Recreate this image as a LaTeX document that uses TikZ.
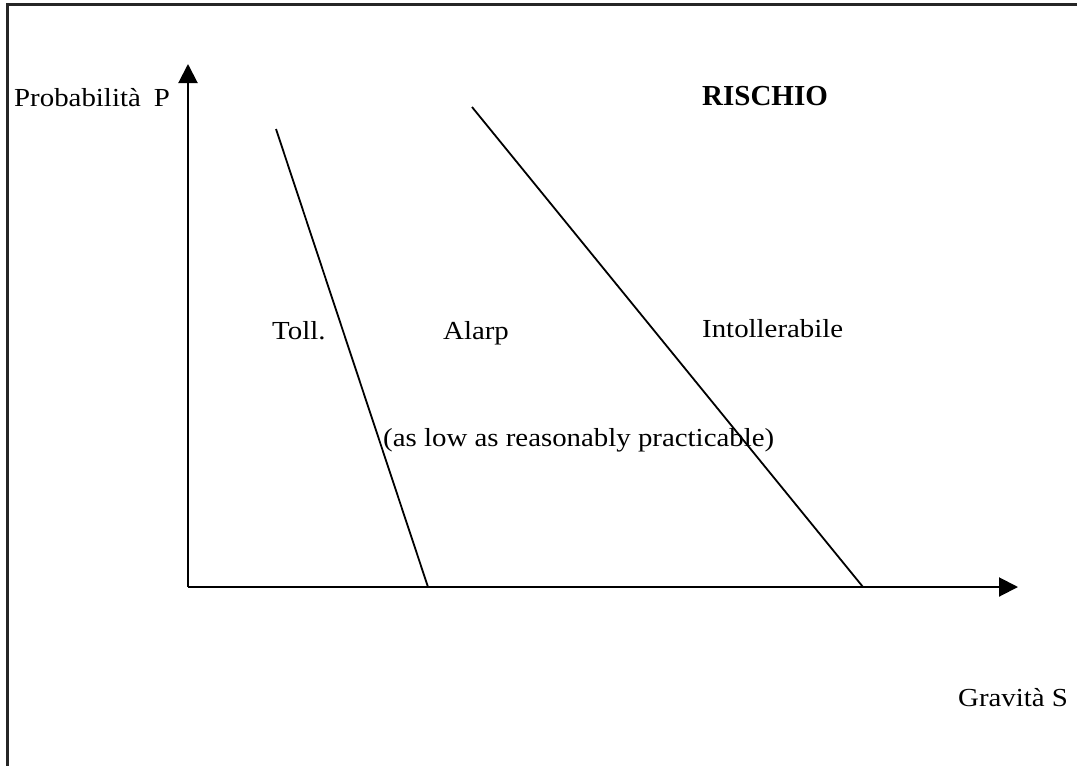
\documentclass[tikz,border=0pt]{standalone}
\usepackage{fontspec}
\setmainfont{Liberation Serif}
\newfontfamily\stretchfont[FakeStretch=1.11]{Liberation Serif}
\usetikzlibrary{arrows.meta}
\begin{document}
\begin{tikzpicture}[x=1pt,y=-1pt,
  lbl/.style={anchor=base west,inner sep=0pt,font=\stretchfont\fontsize{26}{30}\selectfont},
  axis/.style={line width=2pt,-{Triangle[length=19pt,width=19pt]}},
  riskline/.style={line width=1.8pt},
  frame/.style={line width=3pt,black!85}]
\useasboundingbox (0,0) rectangle (1077,766);
\fill[white] (0,0) rectangle (1077,766);
% frame
\coordinate (fbl) at (7,766);
\coordinate (ftl) at (7,4);
\coordinate (ftr) at (1077,4);
\draw[frame] (fbl) -- (ftl) -- (ftr);
% axes
\coordinate (o) at (188,587);
\coordinate (ytip) at (188,64);
\coordinate (xtip) at (1018,587);
\draw[axis] (o) -- (ytip);
\draw[axis] (o) -- (xtip);
% lines
\coordinate (l1t) at (276,129);
\coordinate (l1b) at (428,587);
\coordinate (l2t) at (472,107);
\coordinate (l2b) at (863,587);
\draw[riskline] (l1t) -- (l1b);
\draw[riskline] (l2t) -- (l2b);
% labels
\node[lbl] (prob) at (14,106) {Probabilità\hspace{0.5em}P};
\node[anchor=base west,inner sep=0pt,font=\fontsize{29}{32}\selectfont\bfseries] (ris) at (702,105) {RISCHIO};
\node[lbl] (toll) at (272,339) {Toll.};
\node[lbl] (alarp) at (443,339) {Alarp};
\node[lbl] (intol) at (702,337) {Intollerabile};
\node[lbl] (alarpfull) at (383,446) {(as low as reasonably practicable)};
\node[lbl] (grav) at (958,706) {Gravità S};
\end{tikzpicture}
\end{document}
